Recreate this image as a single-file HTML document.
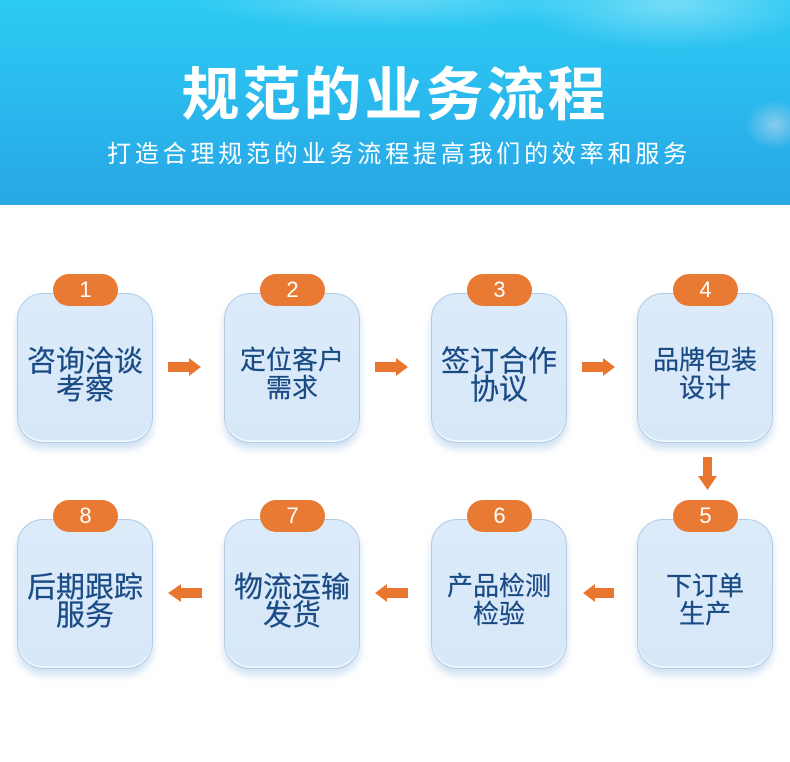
<!DOCTYPE html>
<html>
<head>
<meta charset="utf-8">
<style>
  html,body{margin:0;padding:0;}
  body{width:790px;height:762px;position:relative;overflow:hidden;background:#fff;
    font-family:"Liberation Sans","Noto Sans CJK SC","WenQuanYi Zen Hei",sans-serif;}
  .header{position:absolute;left:0;top:0;width:790px;height:205px;
    background:linear-gradient(180deg,#2ccaf3 0%,#2bbdef 40%,#29afe9 75%,#28a7e4 100%);overflow:hidden;}
  .glow{position:absolute;border-radius:50%;}
  .title{position:absolute;left:0;width:790px;top:56px;text-align:center;color:#fff;
    font-size:58px;font-weight:bold;line-height:68px;letter-spacing:3px;
    font-family:"Noto Sans CJK SC","WenQuanYi Zen Hei",sans-serif;}
  .sub{position:absolute;left:4px;width:790px;top:137px;text-align:center;color:#fff;
    font-size:24px;line-height:30px;letter-spacing:3.8px;
    font-family:"Noto Sans CJK SC","WenQuanYi Zen Hei",sans-serif;}
  .box{position:absolute;width:134px;height:148px;border-radius:26px;
    background:linear-gradient(180deg,#dcebfa 0%,#d6e7f8 100%);
    border:1px solid #b3cbe2;
    box-shadow:inset 0 -2px 0 #eef6ff, 0 6px 8px rgba(120,170,220,0.35);}
  .txt{position:absolute;left:0;width:134px;top:51px;text-align:center;color:#1a4b84;
    line-height:28px;font-weight:normal;-webkit-text-stroke:0.25px #1a4b84;
    font-family:"Noto Sans CJK SC","WenQuanYi Zen Hei",sans-serif;}
  .badge{position:absolute;width:65px;height:32px;border-radius:16px;background:#e97a33;
    color:#fff;text-align:center;font-size:22px;line-height:32px;
    font-family:"Liberation Sans",sans-serif;}
</style>
</head>
<body>
<div class="header">
  <div class="glow" style="left:520px;top:-40px;width:300px;height:90px;background:radial-gradient(ellipse at center,rgba(255,255,255,0.35),rgba(255,255,255,0) 70%);"></div>
  <div class="glow" style="left:180px;top:-30px;width:420px;height:60px;background:radial-gradient(ellipse at center,rgba(255,255,255,0.25),rgba(255,255,255,0) 70%);"></div>
  <div class="glow" style="left:745px;top:100px;width:60px;height:50px;background:radial-gradient(ellipse at center,rgba(255,230,240,0.45),rgba(255,255,255,0) 70%);"></div>
  <div class="title">规范的业务流程</div>
  <div class="sub">打造合理规范的业务流程提高我们的效率和服务</div>
</div>

<!-- Row 1 -->
<div class="box" style="left:17px;top:293px;"><div class="txt" style="font-size:29px;">咨询洽谈<br>考察</div></div>
<div class="box" style="left:224px;top:293px;"><div class="txt" style="font-size:26px;">定位客户<br>需求</div></div>
<div class="box" style="left:431px;top:293px;"><div class="txt" style="font-size:29px;">签订合作<br>协议</div></div>
<div class="box" style="left:637px;top:293px;"><div class="txt" style="font-size:26px;">品牌包装<br>设计</div></div>

<div class="badge" style="left:53px;top:274px;">1</div>
<div class="badge" style="left:260px;top:274px;">2</div>
<div class="badge" style="left:467px;top:274px;">3</div>
<div class="badge" style="left:673px;top:274px;">4</div>

<!-- Row 2 -->
<div class="box" style="left:17px;top:519px;"><div class="txt" style="font-size:29px;">后期跟踪<br>服务</div></div>
<div class="box" style="left:224px;top:519px;"><div class="txt" style="font-size:29px;">物流运输<br>发货</div></div>
<div class="box" style="left:431px;top:519px;"><div class="txt" style="font-size:26px;">产品检测<br>检验</div></div>
<div class="box" style="left:637px;top:519px;"><div class="txt" style="font-size:26px;">下订单<br>生产</div></div>

<div class="badge" style="left:53px;top:500px;">8</div>
<div class="badge" style="left:260px;top:500px;">7</div>
<div class="badge" style="left:467px;top:500px;">6</div>
<div class="badge" style="left:673px;top:500px;">5</div>

<!-- Arrows -->
<svg width="790" height="762" style="position:absolute;left:0;top:0;" xmlns="http://www.w3.org/2000/svg">
  <g fill="#e8762e">
    <polygon points="168,362 189,362 189,358 201,367 189,376 189,372 168,372"/>
    <polygon points="375,362 396,362 396,358 408,367 396,376 396,372 375,372"/>
    <polygon points="582,362 603,362 603,358 615,367 603,376 603,372 582,372"/>
    <polygon points="703,457 712,457 712,476 717,476 707.5,490 698,476 703,476"/>
    <polygon points="202,588 181,588 181,584 168,593 181,602 181,598 202,598"/>
    <polygon points="408,588 387,588 387,584 375,593 387,602 387,598 408,598"/>
    <polygon points="614,588 595,588 595,584 583,593 595,602 595,598 614,598"/>
  </g>
</svg>
</body>
</html>
